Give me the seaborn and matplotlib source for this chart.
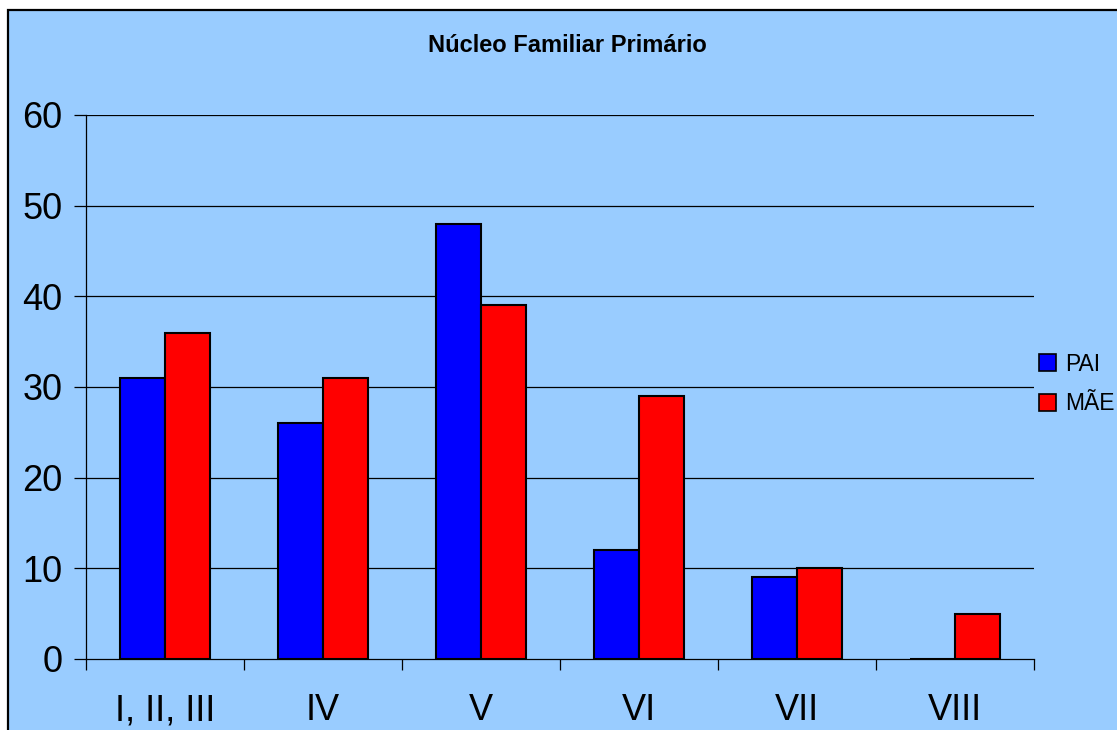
import matplotlib
matplotlib.use("Agg")
import matplotlib.pyplot as plt
from matplotlib.patches import Rectangle, Patch
import seaborn as sns
import pandas as pd

categories = ["I, II, III", "IV", "V", "VI", "VII", "VIII"]
pai = [31, 26, 48, 12, 9, 0]
mae = [36, 31, 39, 29, 10, 5]
series_names = ["PAI", "MÃE"]
colors = {"PAI": "#0000FF", "MÃE": "#FF0000"}
yticks = [0, 10, 20, 30, 40, 50, 60]

df = pd.DataFrame({
    "cat": categories * 2,
    "val": pai + mae,
    "serie": ["PAI"] * len(categories) + ["MÃE"] * len(categories),
})

sns.set_theme(style="white")
plt.rcParams["font.family"] = ["Liberation Sans", "DejaVu Sans"]
plt.rcParams["text.color"] = "black"

W, H = 1117, 730
fig = plt.figure(figsize=(W / 100, H / 100), dpi=100)
fig.patch.set_facecolor("white")
bg = Rectangle((8 / W, -0.2), 1.0, 1.2 - 10 / H, transform=fig.transFigure,
               facecolor="#99CCFF", edgecolor="black", linewidth=1.6, zorder=-5)
fig.patches.append(bg)

ax = fig.add_axes([86 / W, 1 - 659 / H, (1034 - 86) / W, (659 - 115) / H])
ax.set_facecolor("none")
ax.set_zorder(2)

sns.barplot(data=df, x="cat", y="val", hue="serie", order=categories,
            hue_order=series_names, palette=colors, width=0.57,
            edgecolor="black", linewidth=1.5, saturation=1, ax=ax, zorder=3)
if ax.legend_:
    ax.legend_.remove()

ax.set_xlim(-0.5, len(categories) - 0.5)
ax.set_ylim(0, 60)
ax.set_yticks(yticks)
ax.set_xlabel("")
ax.set_ylabel("")

for y in yticks[1:]:
    ax.axhline(y, color="black", linewidth=0.9, zorder=1)

for s in ["top", "right"]:
    ax.spines[s].set_visible(False)
for s in ["left", "bottom"]:
    ax.spines[s].set_color("black")
    ax.spines[s].set_linewidth(0.9)
    ax.spines[s].set_zorder(4)

ax.tick_params(axis="y", direction="out", length=8.6, width=0.9, color="black",
               pad=8.5, labelsize=26, labelcolor="black", left=True)
ax.set_xticks(range(len(categories)))
ax.set_xticklabels(categories)
ax.set_xticks([i - 0.5 for i in range(len(categories) + 1)], minor=True)
ax.tick_params(axis="x", which="major", length=0, pad=24.5, labelsize=26, labelcolor="black")
ax.tick_params(axis="x", which="minor", direction="out", length=8, width=0.9,
               color="black", bottom=True)

fig.text(567 / W, 1 - 45 / H, "Núcleo Familiar Primário", ha="center", va="center",
         fontsize=17, fontweight="bold", color="black")

handles = [Patch(facecolor=colors[n], edgecolor="black", linewidth=1.2) for n in series_names]
leg = fig.legend(handles, series_names, loc="center left", bbox_to_anchor=(1039 / W, 1 - 384 / H),
                 frameon=False, fontsize=16.5, handlelength=0.74, handleheight=0.74,
                 handletextpad=0.4, labelspacing=0.72, borderpad=0, borderaxespad=0,
                 labelcolor="black")

fig.savefig("out.png", dpi=100, facecolor="white")
